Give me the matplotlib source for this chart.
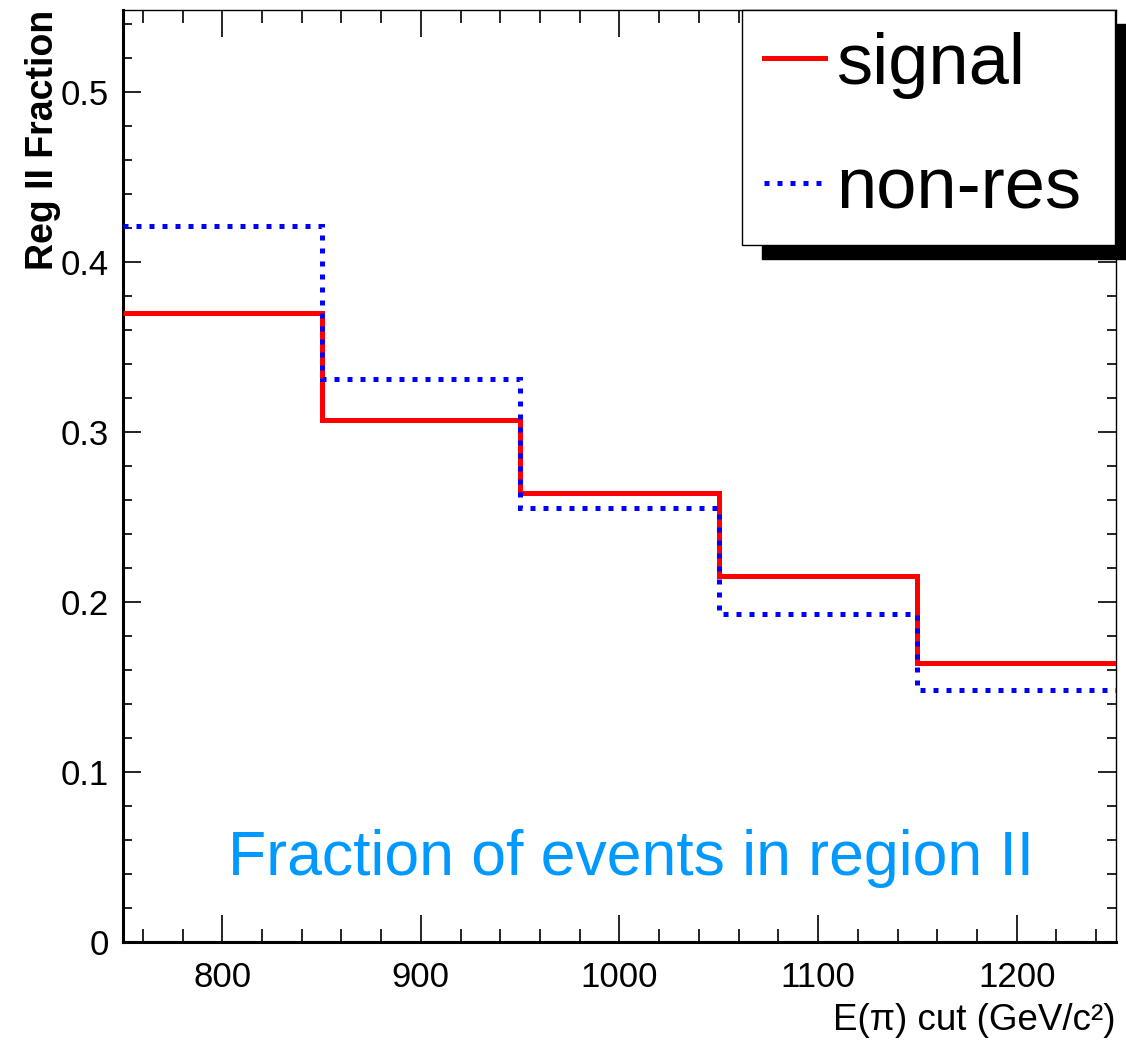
import numpy as np
import matplotlib
matplotlib.use("Agg")
import matplotlib.pyplot as plt
from matplotlib.ticker import MultipleLocator

plt.rcParams['font.family'] = ['Liberation Sans', 'DejaVu Sans']

# E(pi) cut bins and region II fractions
bin_edges = [750, 850, 950, 1050, 1150, 1250]
signal_frac = [0.370, 0.307, 0.264, 0.215, 0.164]
nonres_frac = [0.421, 0.331, 0.255, 0.193, 0.148]

fig = plt.figure(figsize=(11.26, 10.41), dpi=100)
ax = fig.add_axes([0.1092, 0.0951, 0.8819, 0.8953])

ax.stairs(signal_frac, bin_edges, baseline=None, color='#ff0000', lw=3.6,
          label='signal', zorder=3)
ax.stairs(nonres_frac, bin_edges, baseline=None, color='#0000ff', lw=3.6,
          linestyle=(0, (1, 1.6)), label='non-res', zorder=4)

ax.set_xlim(750, 1250)
ax.set_ylim(0, 0.548)

ax.xaxis.set_major_locator(MultipleLocator(100))
ax.xaxis.set_minor_locator(MultipleLocator(20))
ax.yaxis.set_major_locator(MultipleLocator(0.1))
ax.yaxis.set_minor_locator(MultipleLocator(0.02))
ax.set_yticks([0, 0.1, 0.2, 0.3, 0.4, 0.5])
ax.set_yticklabels(['0', '0.1', '0.2', '0.3', '0.4', '0.5'])

ax.tick_params(axis='both', which='both', direction='in', top=True, right=True,
               labelsize=25, width=1.2, colors='black')
ax.tick_params(axis='x', which='major', length=19.5, pad=14)
ax.tick_params(axis='x', which='minor', length=9.5)
ax.tick_params(axis='y', which='major', length=13, pad=10)
ax.tick_params(axis='y', which='minor', length=6.5)

for side in ['left', 'bottom']:
    ax.spines[side].set_linewidth(2.2)
for side in ['top', 'right']:
    ax.spines[side].set_linewidth(1.0)

ax.set_xlabel('E(π) cut (GeV/c²)', fontsize=26.5, loc='right', labelpad=6)
ax.set_ylabel('Reg II Fraction', fontsize=27, fontweight='bold', loc='top', labelpad=0)

ax.text(0.5116, 0.09, 'Fraction of events in region II', transform=ax.transAxes,
        ha='center', va='center', fontsize=45, color='#0099ff')

# legend box stretched to the right edge, with a solid drop shadow
leg = ax.legend(loc='upper left', bbox_to_anchor=(0.6234, 0.0, 0.3756, 1.0),
                mode='expand', borderaxespad=0,
                fontsize=52, handlelength=0.85, handletextpad=0.15, borderpad=0.3,
                labelspacing=0.8, fancybox=False, framealpha=1,
                shadow={'ox': 14.4, 'oy': -10, 'color': 'black', 'alpha': 1})
leg.get_frame().set_edgecolor('black')
leg.get_frame().set_linewidth(1.0)
leg.set_zorder(10)

fig.savefig('out.png', dpi=100)
